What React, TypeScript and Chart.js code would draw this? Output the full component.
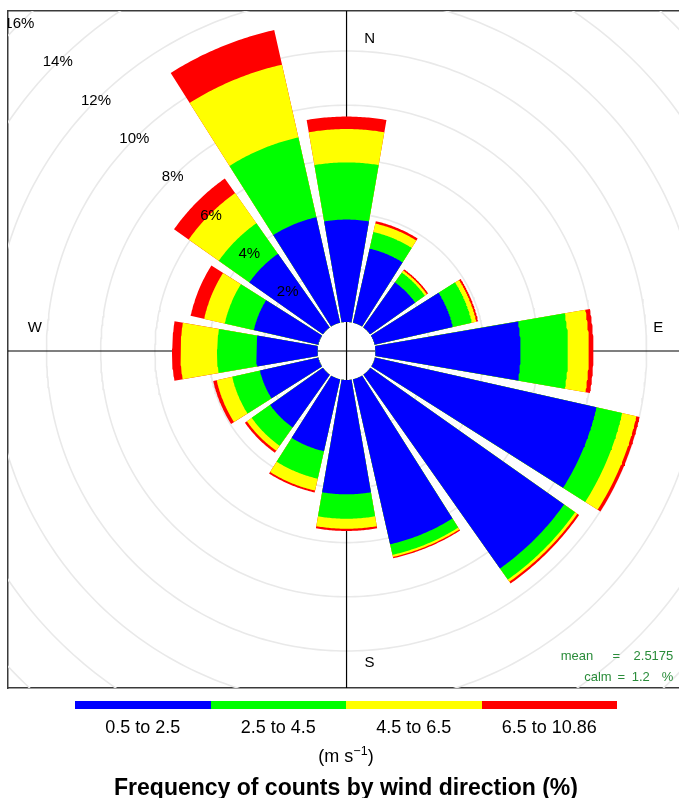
import React, { useEffect, useRef } from 'react';
import { Chart, registerables } from 'chart.js';

Chart.register(...registerables);

// ---------------- data ----------------
const DIRECTIONS = ['N', 'NNE', 'NE', 'ENE', 'E', 'ESE', 'SE', 'SSE', 'S', 'SSW', 'SW', 'WSW', 'W', 'WNW', 'NW', 'NNW'];
const DIRECTION_DEGREES = [0, 22.5, 45, 67.5, 90, 112.5, 135, 157.5, 180, 202.5, 225, 247.5, 270, 292.5, 315, 337.5];

const SPEED_BINS = ['0.5 to 2.5', '2.5 to 4.5', '4.5 to 6.5', '6.5 to 10.86'];
const BIN_COLOURS = ['#0000ff', '#00ff00', '#ffff00', '#ff0000'];

// frequency (%) per direction for each wind-speed bin
const FREQ_05_25 = [3.78, 2.8, 2.03, 2.95, 5.35, 8.38, 8.75, 6.24, 4.22, 2.72, 2.38, 2.2, 2.27, 2.44, 3.32, 3.99];
const FREQ_25_45 = [2.11, 0.63, 0.44, 0.72, 1.75, 0.97, 0.5, 0.4, 0.9, 1.04, 0.83, 1.05, 1.44, 1.1, 1.38, 3.02];
const FREQ_45_65 = [1.23, 0.32, 0.09, 0.17, 0.77, 0.54, 0.1, 0.08, 0.37, 0.45, 0.22, 0.59, 1.35, 0.78, 1.36, 2.75];
const FREQ_65_1086 = [0.46, 0.09, 0.06, 0.07, 0.17, 0.12, 0.08, 0.05, 0.08, 0.07, 0.09, 0.13, 0.31, 0.51, 0.66, 1.31];
const BIN_FREQS = [FREQ_05_25, FREQ_25_45, FREQ_45_65, FREQ_65_1086];

const RING_VALUES = [2, 4, 6, 8, 10, 12, 14, 16];
const RING_LABELS = ['2%', '4%', '6%', '8%', '10%', '12%', '14%', '16%'];
const COMPASS_LABELS = ['N', 'E', 'S', 'W'];
const COMPASS_DEGREES = [0, 90, 180, 270];
const MEAN_TEXT = '2.5175';
const CALM_TEXT = '1.2';
const UNIT_TEXT = 'm s';
const TITLE_TEXT = 'Frequency of counts by wind direction (%)';

// ---------------- geometry / style ----------------
const CALM_RADIUS = 1.07; // empty centre, in % units
const SECTOR_DEG = 22.5;
const HALF_GAP_DEG = 1.45;
const X_MIN = -12.49;
const X_MAX = 13.04;
const Y_MIN = -12.435;
const Y_MAX = 12.546;
const RING_LABEL_DEG = 315;
const COMPASS_RADIUS = 11.5;
const COMPASS_SHIFT = 0.85;
const LINE_EXTENT = 30;
const FONT = '"Liberation Sans", Arial, Helvetica, sans-serif';
const STAT_GREEN = '#2a8c3a';

const rad = (d: number) => (d * Math.PI) / 180;
const polar = (r: number, deg: number) => ({ x: r * Math.sin(rad(deg)), y: r * Math.cos(rad(deg)) });

function sectorPoints(deg: number, r0: number, r1: number) {
  const a0 = deg - SECTOR_DEG / 2 + HALF_GAP_DEG;
  const a1 = deg + SECTOR_DEG / 2 - HALF_GAP_DEG;
  const n = 40;
  const pts: any[] = [];
  for (let k = 0; k <= n; k++) pts.push(polar(r0, a0 + ((a1 - a0) * k) / n));
  for (let k = n; k >= 0; k--) pts.push(polar(r1, a0 + ((a1 - a0) * k) / n));
  pts.push({ x: null, y: null });
  return pts;
}

function buildDatasets() {
  const cumulative = BIN_FREQS.map((_, b) =>
    DIRECTIONS.map((_, i) => BIN_FREQS.slice(0, b + 1).reduce((s, arr) => s + arr[i], 0))
  );
  const wedgeSets = SPEED_BINS.map((label, b) => ({
    label,
    data: DIRECTION_DEGREES.flatMap((deg, i) => sectorPoints(deg, CALM_RADIUS, CALM_RADIUS + cumulative[b][i])),
    backgroundColor: BIN_COLOURS[b],
    borderColor: BIN_COLOURS[b],
    borderWidth: 0,
    pointRadius: 0,
    fill: 'shape',
    tension: 0,
  }));
  const cross = {
    label: 'axes',
    data: [
      polar(LINE_EXTENT, 270), polar(LINE_EXTENT, 90), { x: null, y: null },
      polar(LINE_EXTENT, 180), polar(LINE_EXTENT, 0),
    ],
    borderColor: '#000',
    borderWidth: 1.2,
    pointRadius: 0,
    fill: false,
  };
  const ringPts: any[] = [];
  RING_VALUES.forEach((v) => {
    for (let d = 0; d <= 360; d += 1) ringPts.push(polar(CALM_RADIUS + v, d));
    ringPts.push({ x: null, y: null });
  });
  const rings = {
    label: 'rings',
    data: ringPts,
    borderColor: '#e9e9e9',
    borderWidth: 1.6,
    pointRadius: 0,
    fill: false,
  };
  return [...wedgeSets, cross, rings];
}

const labelPlugin = {
  id: 'roseLabels',
  afterDatasetsDraw(chart: any) {
    const { ctx, chartArea, scales } = chart;
    const xs = scales.x;
    const ys = scales.y;
    ctx.save();
    ctx.beginPath();
    ctx.rect(chartArea.left, chartArea.top, chartArea.right - chartArea.left, chartArea.bottom - chartArea.top);
    ctx.clip();
    ctx.fillStyle = '#000';
    ctx.font = `15px ${FONT}`;
    ctx.textAlign = 'center';
    ctx.textBaseline = 'middle';
    RING_VALUES.forEach((v, i) => {
      const p = polar(CALM_RADIUS + v, RING_LABEL_DEG);
      ctx.fillText(RING_LABELS[i], xs.getPixelForValue(p.x), ys.getPixelForValue(p.y));
    });
    COMPASS_LABELS.forEach((lab, i) => {
      const p = polar(COMPASS_RADIUS, COMPASS_DEGREES[i]);
      const horiz = COMPASS_DEGREES[i] === 90 || COMPASS_DEGREES[i] === 270;
      const px = horiz ? p.x : p.x + COMPASS_SHIFT;
      const py = horiz ? p.y + COMPASS_SHIFT : p.y;
      ctx.fillText(lab, xs.getPixelForValue(px), ys.getPixelForValue(py));
    });
    // statistics in the bottom-right corner of the panel
    ctx.fillStyle = STAT_GREEN;
    ctx.font = `13px ${FONT}`;
    ctx.textBaseline = 'alphabetic';
    const L = chartArea.left;
    const B = chartArea.bottom;
    ctx.textAlign = 'right';
    ctx.fillText('mean', L + 585.3, B - 28.5);
    ctx.textAlign = 'center';
    ctx.fillText('=', L + 608.3, B - 28.5);
    ctx.textAlign = 'right';
    ctx.fillText(MEAN_TEXT, L + 665.3, B - 28.5);
    ctx.fillText('calm', L + 603.7, B - 7);
    ctx.textAlign = 'center';
    ctx.fillText('=', L + 613.2, B - 7);
    ctx.textAlign = 'left';
    ctx.fillText(CALM_TEXT, L + 623.7, B - 7);
    ctx.textAlign = 'right';
    ctx.fillText('%', L + 665.3, B - 7);
    ctx.restore();
  },
};

const hiddenAxis = (min: number, max: number, position: string) => ({
  type: 'linear',
  min,
  max,
  position,
  display: true,
  grid: { display: false, drawTicks: false },
  ticks: { display: false },
  border: { display: true, color: '#3a3a3a', width: 1.5 },
});

export default function App() {
  const ref = useRef<HTMLCanvasElement>(null);

  useEffect(() => {
    if (!ref.current) return;
    const chart = new Chart(ref.current, {
      type: 'line',
      data: { datasets: buildDatasets() as any },
      options: {
        responsive: false,
        animation: false,
        devicePixelRatio: 1,
        events: [],
        layout: { padding: { left: 8, top: 11, right: 0, bottom: 110 }, autoPadding: false },
        plugins: { legend: { display: false }, tooltip: { enabled: false }, title: { display: false } },
        scales: {
          x: hiddenAxis(X_MIN, X_MAX, 'bottom'),
          x2: hiddenAxis(X_MIN, X_MAX, 'top'),
          y: hiddenAxis(Y_MIN, Y_MAX, 'left'),
        } as any,
      },
      plugins: [labelPlugin],
    } as any);
    return () => chart.destroy();
  }, []);

  const segW = 135.5;
  return (
    <div
      style={{
        position: 'fixed',
        left: 0,
        top: 0,
        width: 679,
        height: 798,
        overflow: 'hidden',
        background: '#fff',
        fontFamily: FONT,
        color: '#000',
      }}
    >
      <canvas ref={ref} width={700} height={798} style={{ position: 'absolute', left: 0, top: 0 }} />
      {SPEED_BINS.map((b, i) => (
        <div
          key={'bar' + i}
          style={{ position: 'absolute', left: 75 + i * segW, top: 701, width: segW, height: 8, background: BIN_COLOURS[i] }}
        />
      ))}
      {SPEED_BINS.map((b, i) => (
        <div
          key={'lab' + i}
          style={{
            position: 'absolute',
            left: 75 + i * segW - 20,
            top: 717,
            width: segW + 40,
            height: 20,
            lineHeight: '20px',
            fontSize: 18,
            textAlign: 'center',
            whiteSpace: 'nowrap',
          }}
        >
          {b}
        </div>
      ))}
      <div
        style={{
          position: 'absolute',
          left: 246,
          top: 746,
          width: 200,
          height: 20,
          lineHeight: '20px',
          fontSize: 18,
          textAlign: 'center',
          whiteSpace: 'nowrap',
        }}
      >
        ({UNIT_TEXT}
        <span style={{ fontSize: 12.5, position: 'relative', top: -7 }}>−1</span>)
      </div>
      <div
        style={{
          position: 'absolute',
          left: 0,
          top: 774,
          width: 692,
          height: 26,
          lineHeight: '26px',
          fontSize: 23,
          fontWeight: 'bold',
          textAlign: 'center',
          whiteSpace: 'nowrap',
        }}
      >
        {TITLE_TEXT}
      </div>
    </div>
  );
}
